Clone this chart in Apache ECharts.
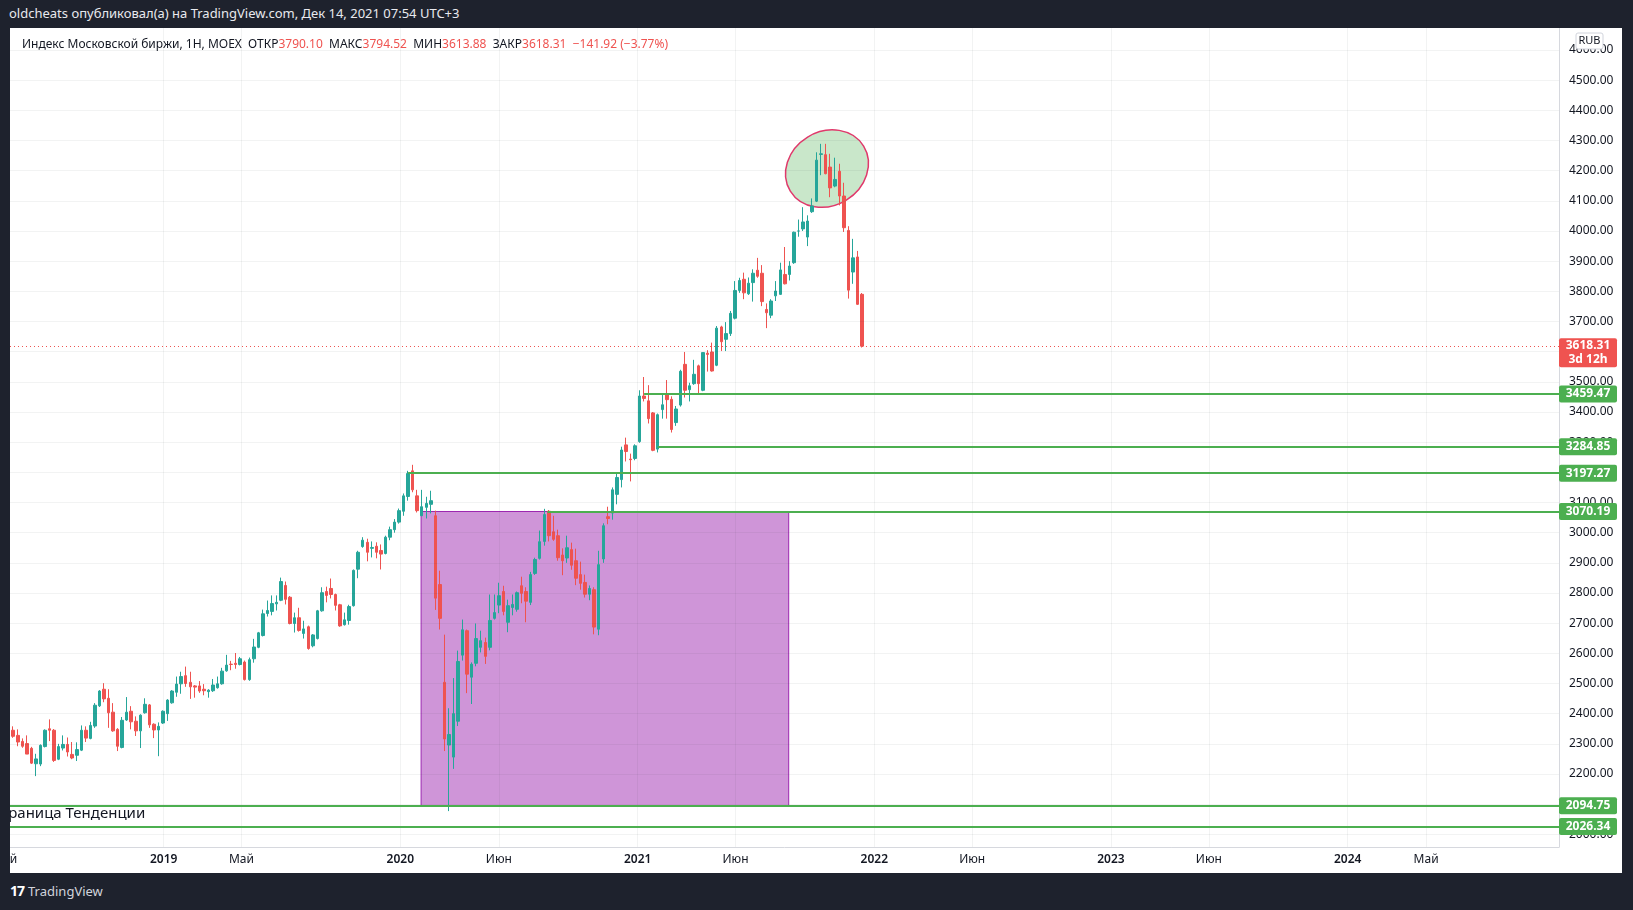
<!DOCTYPE html>
<html><head><meta charset="utf-8">
<script src="https://cdn.jsdelivr.net/npm/echarts@6/dist/echarts.min.js"></script>
<style>
html,body{margin:0;padding:0;background:#1e222d;width:1633px;height:910px;overflow:hidden;font-family:"Noto Sans",sans-serif}
#top{position:absolute;left:9px;top:4px;color:#e8e9ee;font-size:13px;font-family:"Noto Sans",sans-serif}
#foot{position:absolute;left:10px;top:881px;color:#d1d4dc;font-size:13px}
#foot b{font-size:14px;letter-spacing:-1px;margin-right:4px;color:#fff}
#c{position:absolute;left:10px;top:28px;width:1612px;height:845px;background:#fff}
</style></head><body>
<div id="top">oldcheats опубликовал(а) на TradingView.com, Дек 14, 2021 07:54 UTC+3</div>
<div id="c"></div>
<div id="foot"><b>17</b>TradingView</div>
<script>
// weekly candles [open, high, low, close], first week 2018-05-07
const firstWeek = '2018-05-07';
const ohlc = [
[2292,2350,2285,2345],[2345,2358,2320,2325],[2328,2348,2292,2306],[2308,2318,2287,2292],[2301,2328,2266,2266],
[2285,2290,2233,2236],[2234,2267,2193,2250],[2233,2298,2226,2295],[2291,2348,2288,2345],[2350,2381,2309,2345],
[2345,2349,2240,2245],[2249,2300,2246,2291],[2286,2328,2278,2298],[2298,2321,2258,2273],[2265,2306,2249,2253],
[2262,2305,2243,2281],[2279,2361,2276,2345],[2345,2358,2306,2319],[2318,2373,2315,2361],[2359,2435,2353,2428],
[2426,2478,2422,2475],[2481,2501,2438,2449],[2451,2481,2353,2403],[2405,2435,2340,2343],[2348,2352,2276,2292],
[2288,2389,2285,2378],[2379,2455,2376,2405],[2408,2425,2348,2373],[2375,2391,2326,2343],[2343,2398,2286,2395],
[2403,2451,2400,2431],[2429,2432,2353,2363],[2365,2368,2319,2346],[2346,2371,2259,2358],[2369,2411,2366,2408],
[2400,2448,2376,2445],[2436,2478,2433,2475],[2471,2523,2456,2498],[2499,2539,2466,2523],[2526,2556,2489,2500],
[2504,2539,2449,2489],[2492,2495,2453,2488],[2492,2508,2469,2475],[2481,2498,2461,2476],[2473,2481,2453,2478],
[2476,2515,2472,2495],[2486,2523,2483,2499],[2499,2552,2496,2541],[2542,2595,2539,2561],[2564,2575,2544,2563],
[2567,2601,2549,2563],[2563,2588,2560,2582],[2571,2576,2510,2513],[2513,2586,2509,2579],[2582,2648,2569,2621],
[2620,2671,2617,2668],[2659,2745,2656,2731],[2732,2775,2722,2742],[2739,2792,2726,2765],[2764,2792,2742,2769],
[2776,2851,2773,2838],[2825,2838,2762,2779],[2786,2790,2696,2699],[2699,2735,2669,2718],[2718,2751,2672,2676],
[2666,2708,2649,2681],[2688,2692,2612,2616],[2625,2664,2620,2661],[2649,2744,2646,2741],[2741,2819,2738,2801],
[2805,2821,2769,2792],[2815,2848,2782,2795],[2795,2798,2742,2759],[2761,2764,2688,2691],[2695,2735,2692,2711],
[2709,2761,2695,2755],[2758,2878,2755,2875],[2879,2940,2849,2935],[2954,2985,2950,2975],[2968,2980,2905,2935],
[2948,2971,2918,2951],[2955,2968,2915,2935],[2941,2961,2878,2929],[2931,2990,2928,2985],[2985,3020,2975,3010],
[3010,3045,3000,3035],[3035,3080,3030,3073],[3071,3130,3056,3122],[3120,3205,3106,3196],[3205,3225,3134,3142],
[3122,3142,3067,3073],[3056,3142,3056,3086],[3084,3119,3047,3097],[3094,3139,3064,3106],[3056,3073,2744,2783],
[2828,2874,2679,2716],[2504,2662,2276,2316],[2296,2418,2077,2331],[2256,2518,2217,2400],[2375,2609,2359,2573],
[2594,2712,2576,2678],[2675,2679,2468,2531],[2521,2570,2432,2564],[2567,2699,2557,2649],[2620,2675,2603,2642],
[2636,2652,2565,2590],[2620,2795,2610,2709],[2716,2795,2712,2735],[2760,2834,2733,2791],[2805,2824,2726,2739],
[2703,2778,2670,2758],[2752,2795,2726,2762],[2746,2805,2738,2801],[2824,2854,2766,2799],[2805,2819,2703,2773],
[2769,2870,2760,2861],[2865,2917,2860,2911],[2915,3007,2911,2970],[2971,3079,2957,3060],[3071,3075,2971,2990],
[3003,3056,2973,2978],[2990,3010,2907,2917],[2926,2948,2859,2907],[2916,2990,2900,2950],[2944,2967,2877,2892],
[2907,2947,2826,2849],[2861,2904,2811,2832],[2835,2861,2785,2796],[2796,2825,2776,2815],[2811,2819,2663,2687],
[2680,2940,2660,2894],[2913,3031,2900,3023],[3053,3086,3028,3047],[3065,3150,3043,3142],[3127,3199,3094,3183],
[3176,3285,3150,3274],[3291,3315,3236,3269],[3244,3262,3170,3242],[3246,3293,3240,3288],[3302,3472,3298,3453],
[3453,3516,3435,3445],[3437,3489,3362,3378],[3397,3400,3270,3273],[3277,3395,3266,3391],[3408,3463,3378,3424],
[3459,3506,3378,3441],[3442,3452,3332,3342],[3365,3420,3354,3410],[3423,3540,3418,3535],[3558,3599,3448,3472],
[3474,3497,3435,3487],[3494,3573,3490,3525],[3553,3557,3459,3494],[3472,3597,3469,3597],[3595,3605,3534,3591],
[3599,3630,3534,3536],[3555,3685,3552,3678],[3682,3686,3602,3633],[3641,3698,3602,3660],[3660,3735,3652,3727],
[3711,3834,3707,3803],[3803,3845,3795,3836],[3840,3862,3774,3795],[3792,3846,3788,3827],[3829,3873,3766,3860],
[3870,3911,3845,3850],[3860,3887,3751,3766],[3740,3760,3678,3729],[3721,3774,3711,3768],[3785,3834,3768,3801],
[3790,3895,3788,3871],[3856,3947,3823,3825],[3856,3900,3836,3884],[3895,3998,3891,3996],[4000,4038,3981,4000],
[4007,4079,4000,4030],[3980,4052,3950,4033],[4064,4108,4060,4083],[4099,4261,4096,4235],[4254,4289,4185,4256],
[4253,4289,4188,4190],[4212,4256,4112,4143],[4149,4243,4145,4171],[4198,4223,4085,4116],[4116,4160,3997,4011],
[4002,4016,3776,3804],[3864,3974,3825,3911],[3914,3934,3755,3757],[3790.10,3794.52,3613.88,3618.31]
];
// horizontal levels [price, start date] (null = from left edge)
const levels = [[3459.47,'2021-01-11'],[3284.85,'2021-02-01'],[3197.27,'2020-01-13'],[3070.19,'2020-08-15'],[2094.75,null],[2026.34,null]];
const lastPrice = 3618.31;
const boxLo = 2094.75, boxHi = 3070.19, boxFrom = '2020-02-02', boxTo = '2021-08-22';
const ellipseAt = ['2021-10-20', 4207];
const trendLabel = 'Граница Тенденции', trendLabelAt = 2068;
const yTicks = [2000,2100,2200,2300,2400,2500,2600,2700,2800,2900,3000,3100,3200,3300,3400,3500,3600,3700,3800,3900,4000,4100,4200,4300,4400,4500,4600];
const xTicks = [['2018-05-01','Май',0],['2019-01-01','2019',1],['2019-05-01','Май',0],['2020-01-01','2020',1],['2020-06-01','Июн',0],['2021-01-01','2021',1],['2021-06-01','Июн',0],['2022-01-01','2022',1],['2022-06-01','Июн',0],['2023-01-01','2023',1],['2023-06-01','Июн',0],['2024-01-01','2024',1],['2024-05-01','Май',0]];

const T = s => { const [y,m,d]=s.split('-').map(Number); return Date.UTC(y,m-1,d); };
const t0 = T(firstWeek), WEEK = 7*864e5;
const data = ohlc.map((r,i)=>[t0+i*WEEK, r[0], r[3], r[2], r[1]]);
const xMin = T('2018-05-09'), xMax = T('2024-11-22');

const chart = echarts.init(document.getElementById('c'), null, {renderer:'canvas'});
const green = '#4caf50';
const F = '"Noto Sans", sans-serif';
const gridLine = {color:'rgba(42,46,57,0.06)',width:1,type:'solid'};
chart.setOption({
  animation:false,
  textStyle:{fontFamily:F},
  title:{left:7,top:6,text:'{a|Индекс Московской биржи, 1Н, MOEX  ОТКР}{r|3790.10}{a|  МАКС}{r|3794.52}{a|  МИН}{r|3613.88}{a|  ЗАКР}{r|3618.31  −141.92 (−3.77%)}',
    textStyle:{fontWeight:'normal',rich:{a:{color:'#131722',fontSize:12,fontWeight:'normal',fontFamily:F},r:{color:'#ef5350',fontSize:12,fontWeight:'normal',fontFamily:F}}}},
  grid:{left:0,right:63,top:0,bottom:26},
  xAxis:{type:'value',min:xMin,max:xMax,
    axisLine:{show:true,lineStyle:{color:'#d6d8de'}},axisTick:{show:false},splitLine:{show:false},axisLabel:{show:false}},
  yAxis:{type:'value',position:'right',min:1958,max:4673,
    axisLine:{show:true,lineStyle:{color:'#d6d8de'}},axisTick:{show:false},splitLine:{show:false},
    axisLabel:{customValues:yTicks,color:'#131722',fontSize:12,margin:10,formatter:v=>v.toFixed(2)}},
  series:[
    {type:'line',data:[],silent:true,z:1,
     markArea:{silent:true,itemStyle:{color:'rgba(186,104,200,0.7)',borderColor:'#9c27b0',borderWidth:1},
       data:[[{coord:[T(boxFrom),boxHi]},{coord:[T(boxTo),boxLo]}]]}},
    {type:'line',data:[],silent:true,z:2,
     markLine:{silent:true,symbol:'none',animation:false,label:{show:false},
       data:[...yTicks.map(v=>({yAxis:v,lineStyle:gridLine})),
             ...xTicks.map(t=>({xAxis:T(t[0]),lineStyle:gridLine}))]}},
    {type:'candlestick',data:data,z:3,barWidth:3,
     itemStyle:{color:'#26a69a',color0:'#ef5350',borderColor:'#26a69a',borderColor0:'#ef5350',borderWidth:1},
     markLine:{silent:true,symbol:'none',label:{show:false},
       data:[[{coord:[xMin,lastPrice],lineStyle:{color:'#ef5350',type:[1,3],width:1}},{coord:[xMax,lastPrice]}],
         ...levels.map(l=>[{coord:[l[1]?T(l[1]):xMin,l[0]],lineStyle:{color:green,width:2,type:'solid'}},{coord:[xMax,l[0]]}])]}}
  ]
});

const P = (x,y)=>chart.convertToPixel({gridIndex:0},[x,y]);
const gx = 1612-63;
const g = [];
const ec = P(T(ellipseAt[0]),ellipseAt[1]);
g.push({type:'ellipse',x:ec[0],y:ec[1],rotation:0.55,z:1,shape:{cx:0,cy:0,rx:43,ry:37},
  style:{fill:'rgba(76,175,80,0.3)',stroke:'#e0396b',lineWidth:1.5}});
const tl = P(xMin,trendLabelAt);
g.push({type:'text',x:-9,y:tl[1],z:50,style:{text:trendLabel,fill:'#131722',font:'15px '+F,verticalAlign:'middle'}});
xTicks.forEach(t=>{const p=P(T(t[0]),2000);
  g.push({type:'text',x:p[0],y:832,z:50,style:{text:t[1],fill:'#131722',font:(t[2]?'600 ':'')+'12px '+F,align:'center',verticalAlign:'middle'}});});
levels.forEach(l=>{const p=P(xMax,l[0]);
  g.push({type:'rect',x:gx,y:p[1]-8.5,z:100,shape:{width:58,height:17,r:2},style:{fill:green}});
  g.push({type:'text',x:gx+29,y:p[1],z:101,style:{text:l[0].toFixed(2),fill:'#fff',font:'bold 12px '+F,align:'center',verticalAlign:'middle'}});
});
const lp = P(xMax,lastPrice);
g.push({type:'rect',x:gx,y:lp[1]-8,z:100,shape:{width:58,height:29,r:2},style:{fill:'#ef5350'}});
g.push({type:'text',x:gx+29,y:lp[1]+6,z:101,style:{text:lastPrice.toFixed(2)+'\n3d 12h',fill:'#fff',font:'bold 12px '+F,align:'center',verticalAlign:'middle',lineHeight:14}});
g.push({type:'rect',x:gx+17,y:5,z:100,shape:{width:27,height:16,r:2},style:{fill:'#fff',stroke:'#d1d4dc',lineWidth:1}});
g.push({type:'text',x:gx+30.5,y:13,z:101,style:{text:'RUB',fill:'#131722',font:'11px '+F,align:'center',verticalAlign:'middle'}});
chart.setOption({graphic:g});
</script></body></html>
